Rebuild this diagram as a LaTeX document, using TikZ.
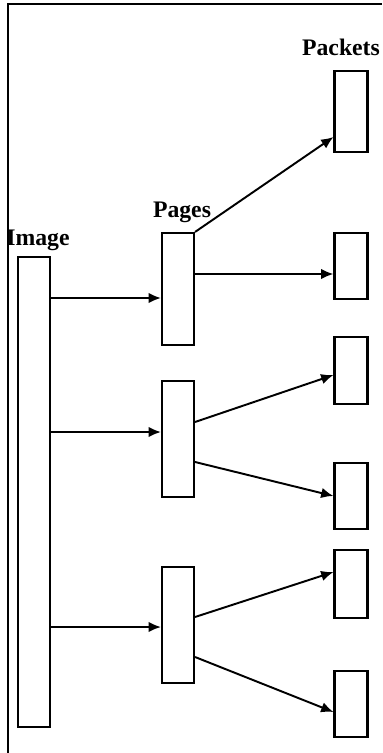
\documentclass[tikz,border=0pt]{standalone}
\usepackage{fontspec}
\setmainfont{Liberation Serif}
\usepackage{tikz}
\usetikzlibrary{arrows.meta,positioning,calc}

\begin{document}
\begin{tikzpicture}[x=0.02cm, y=0.02cm, line width=0.9pt,
    box/.style={draw, line width=1.2pt, minimum width=0.64cm, inner sep=0pt},
    flow/.style={-{Latex[length=7pt,width=6pt]}, line width=1.1pt},
    tag/.style={font=\bfseries\fontsize{13.5}{15}\selectfont, inner sep=0pt}]
   \useasboundingbox (0,0) rectangle (382,-753);
   % frame
   \draw[line width=1pt] (8,-753) -- (8,-4) -- (382,-4);
   % boxes
   \node[box, minimum height=9.4cm] (img) at (34,-492) {};
   \node[box, minimum height=2.24cm] (pg1) at (178,-289) {};
   \node[box, minimum height=2.32cm] (pg2) at (178,-439) {};
   \node[box, minimum height=2.32cm] (pg3) at (178,-625) {};
   \node[box, minimum width=0.66cm, minimum height=1.62cm] (pk1) at (351,-111.5) {};
   \node[box, minimum width=0.66cm, minimum height=1.32cm] (pk2) at (351,-266) {};
   \node[box, minimum width=0.66cm, minimum height=1.34cm] (pk3) at (351,-370.5) {};
   \node[box, minimum width=0.66cm, minimum height=1.32cm] (pk4) at (351,-496) {};
   \node[box, minimum width=0.66cm, minimum height=1.36cm] (pk5) at (351,-584) {};
   \node[box, minimum width=0.66cm, minimum height=1.32cm] (pk6) at (351,-704) {};
   % labels
   \node[tag] (imgtag) at (38,-240) {Image};
   \node[tag] (pgtag) at (182,-212) {Pages};
   \node[tag] (pktag) at (341,-47) {Packets};
   % image to pages
   \draw[flow] (img.east |- 0,-298) -- (pg1.west |- 0,-298);
   \draw[flow] (img.east |- 0,-432) -- (pg2.west |- 0,-432);
   \draw[flow] (img.east |- 0,-627) -- (pg3.west |- 0,-627);
   % pages to packets
   \draw[flow] (pg1.north east) -- (pk1.west |- 0,-137);
   \draw[flow] (pg1.east |- 0,-274) -- (pk2.west |- 0,-274);
   \draw[flow] (pg2.east |- 0,-422) -- (pk3.west |- 0,-375);
   \draw[flow] (pg2.east |- 0,-462) -- (pk4.west |- 0,-496);
   \draw[flow] (pg3.east |- 0,-617) -- (pk5.west |- 0,-572);
   \draw[flow] (pg3.east |- 0,-657) -- (pk6.west |- 0,-712);
\end{tikzpicture}
\end{document}
